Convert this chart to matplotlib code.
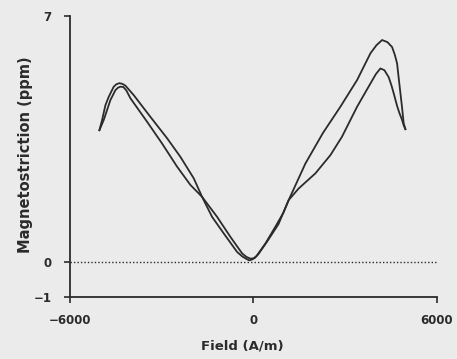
import numpy as np
import matplotlib
matplotlib.use("Agg")
from matplotlib import pyplot as plt

# branch 1: outer peak on the left, inner peak on the right
field_1 = [-5036, -4948, -4840, -4732, -4568, -4480, -4382, -4284, -4186, -4055,
           -3914, -3368, -2822, -2387, -1952, -1678, -1351, -971, -533, -360,
           -206, -131, -33, 98, 392, 719, 981, 1154, 1481, 2027,
           2518, 2894, 3391, 3826, 4006, 4153, 4284, 4424, 4513, 4588,
           4699, 4774, 4862, 4915, 4970]
strain_1 = [3.75, 4.04, 4.46, 4.70, 4.99, 5.06, 5.09, 5.07, 5.02, 4.89,
            4.75, 4.13, 3.52, 2.99, 2.38, 1.85, 1.28, 0.81, 0.28, 0.15,
            0.07, 0.04, 0.07, 0.16, 0.52, 1.00, 1.40, 1.76, 2.09, 2.52,
            3.04, 3.56, 4.42, 5.08, 5.35, 5.51, 5.46, 5.26, 5.03, 4.80,
            4.44, 4.24, 4.04, 3.89, 3.78]

# branch 2: inner peak on the left, outer peak on the right
field_2 = [-5036, -4895, -4676, -4513, -4431, -4349, -4251, -4153, -4022, -3476,
           -2986, -2495, -2060, -1678, -1187, -752, -370, -229, -98, 33,
           164, 458, 818, 1154, 1700, 2273, 2845, 3391, 3826, 4022,
           4208, 4382, 4535, 4627, 4699, 4758, 4807, 4863, 4915, 4970]
strain_2 = [3.75, 4.04, 4.61, 4.89, 4.96, 4.99, 4.98, 4.88, 4.66, 3.99,
            3.37, 2.71, 2.19, 1.85, 1.28, 0.71, 0.24, 0.14, 0.09, 0.10,
            0.22, 0.59, 1.07, 1.76, 2.80, 3.67, 4.42, 5.18, 5.94, 6.17,
            6.32, 6.26, 6.12, 5.89, 5.65, 5.18, 4.81, 4.38, 3.94, 3.78]

x_ticks = [-6000, 0, 6000]
y_ticks = [-1, 0, 7]

BG = "#ebebeb"
INK = "#2b2b2b"

plt.rcParams['font.family'] = ['DejaVu Sans']
plt.rcParams['font.weight'] = 'bold'

fig = plt.figure(figsize=(4.57, 3.59), dpi=100, facecolor=BG)
ax = fig.add_axes([0.153, 0.173, 0.803, 0.782], facecolor=BG)

ax.plot(field_1, strain_1, color=INK, lw=1.3, solid_joinstyle='round')
ax.plot(field_2, strain_2, color=INK, lw=1.3, solid_joinstyle='round')
ax.axhline(0, color=INK, lw=1.0, ls=(0, (1, 1.5)))

ax.set_xlim(-6000, 6000)
ax.set_ylim(-1, 7)
ax.set_xticks(x_ticks)
ax.set_yticks(y_ticks)
ax.set_xticklabels(["\u22126000", "0", "6000"])
ax.set_yticklabels(["\u22121", "0", "7"])

for s in ["top", "right"]:
    ax.spines[s].set_visible(False)
for s in ["left", "bottom"]:
    ax.spines[s].set_color(INK)
    ax.spines[s].set_linewidth(1.3)

ax.tick_params(axis='both', colors=INK, length=4, width=1.2, labelsize=8.5)
ax.tick_params(axis='y', pad=9)
ax.tick_params(axis='x', pad=8)

ax.set_xlabel("Field (A/m)", fontsize=9.5, fontweight='bold', color=INK)
ax.xaxis.set_label_coords(0.471, -0.15)
ax.set_ylabel("Magnetostriction (ppm)", fontsize=10.5, fontweight='bold', color=INK)
ax.yaxis.set_label_coords(-0.10, 0.505)

fig.savefig("out.png", dpi=100, facecolor=BG)
